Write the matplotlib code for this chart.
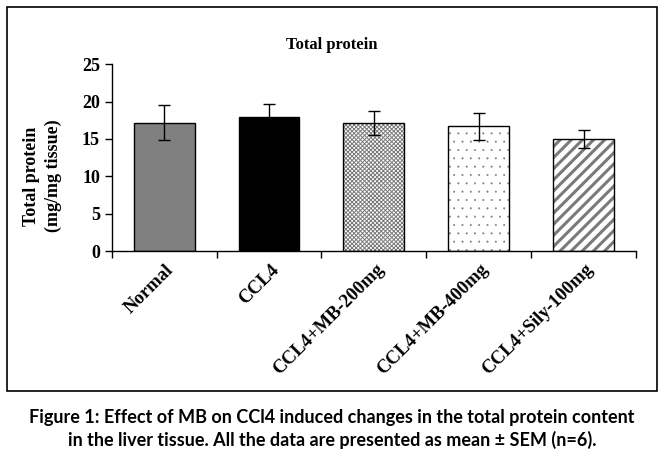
import matplotlib
matplotlib.use("Agg")
import matplotlib.pyplot as plt
from matplotlib.patches import Rectangle
import matplotlib.transforms as mtransforms

groups = ["Normal", "CCL4", "CCL4+MB-200mg", "CCL4+MB-400mg", "CCL4+Sily-100mg"]
means = [17.2, 17.9, 17.1, 16.7, 14.95]
sem = [2.3, 1.8, 1.6, 1.8, 1.2]

faces = ["#808080", "#000000", "white", "white", "white"]
hatches = [None, None, "xxxxxxxx", "..", "///"]
hatch_lw = [1, 1, 0.7, 0.2, 2.2]

serif = ["Liberation Serif", "DejaVu Serif"]

fig = plt.figure(figsize=(6.64, 4.63), dpi=100)
ax = fig.add_axes([111.7 / 664, 1 - 251 / 463, (636 - 111.7) / 664, (251 - 64.3) / 463])

x = list(range(len(groups)))
for i in x:
    plt.rcParams["hatch.linewidth"] = hatch_lw[i]
    if hatches[i]:
        # hatch drawn in gray, outline drawn on top in black
        ax.bar(i, means[i], width=0.58, color=faces[i], edgecolor="#7a7a7a",
               hatch=hatches[i], linewidth=0, zorder=2)
        ax.bar(i, means[i], width=0.58, color="none", edgecolor="black",
               linewidth=1, zorder=3)
    else:
        ax.bar(i, means[i], width=0.58, color=faces[i], edgecolor="black",
               linewidth=1, zorder=2)

ax.errorbar(x, means, yerr=sem, fmt="none", ecolor="black", elinewidth=1,
            capsize=4, capthick=1, zorder=4)

ax.set_xlim(-0.5, 4.5)
ax.set_ylim(0, 25)
ax.set_yticks([0, 5, 10, 15, 20, 25])
ax.set_xticks([i - 0.5 for i in range(len(groups) + 1)])
ax.set_xticklabels([])
ax.tick_params(axis="both", direction="out", length=5, width=1, color="black")
for lab in ax.get_yticklabels():
    lab.set_fontfamily(serif)
    lab.set_fontweight("bold")
    lab.set_fontsize(13)
for s in ["top", "right"]:
    ax.spines[s].set_visible(False)
for s in ["left", "bottom"]:
    ax.spines[s].set_linewidth(1)
    ax.spines[s].set_color("black")

trans = mtransforms.blended_transform_factory(ax.transData, ax.transAxes)
for i, g in enumerate(groups):
    ax.text(i + 0.07, -0.085, g, transform=trans, rotation=45, ha="right",
            va="center", rotation_mode="anchor", fontfamily=serif,
            fontweight="bold", fontsize=13.5)

fig.text(332 / 664, 1 - 45 / 463, "Total protein", ha="center", va="center",
         fontfamily=serif, fontweight="bold", fontsize=12)
fig.text(31 / 664, 1 - 176 / 463, "Total protein", ha="center", va="center",
         rotation=90, fontfamily=serif, fontweight="bold", fontsize=13)
fig.text(53 / 664, 1 - 176 / 463, "(mg/mg tissue)", ha="center", va="center",
         rotation=90, fontfamily=serif, fontweight="bold", fontsize=13)

fig.patches.append(Rectangle((7 / 664, 1 - 391 / 463), 650 / 664, 384 / 463,
                             transform=fig.transFigure, fill=False,
                             edgecolor="black", linewidth=1.2))

cap = ["Figure 1: Effect of MB on CCl4 induced changes in the total protein content",
       "in the liver tissue. All the data are presented as mean \u00b1 SEM (n=6)."]
fig.text(332 / 664, 1 - 417 / 463, cap[0], ha="center", va="center",
         fontfamily=["Lato", "DejaVu Sans"], fontweight="bold", fontsize=13)
fig.text(332 / 664, 1 - 440 / 463, cap[1], ha="center", va="center",
         fontfamily=["Lato", "DejaVu Sans"], fontweight="bold", fontsize=13)

fig.savefig("out.png", dpi=100)
